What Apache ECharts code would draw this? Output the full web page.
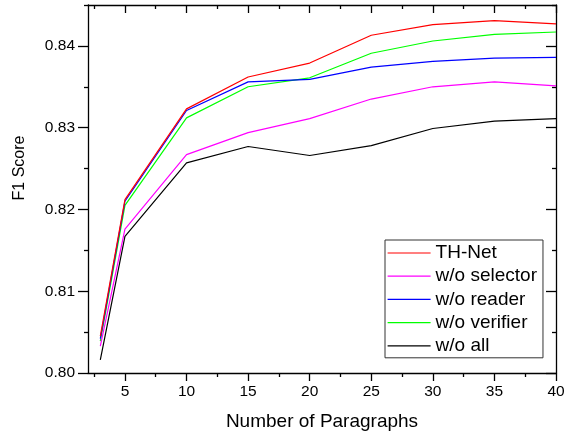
<!DOCTYPE html>
<html><head><meta charset="utf-8">
<script src="https://cdn.jsdelivr.net/npm/echarts@6/dist/echarts.min.js"></script>
<style>html,body{margin:0;padding:0;background:#fff}#c{width:564px;height:431px}</style>
</head><body><div id="c"></div>
<script>
const xValues = [3, 5, 10, 15, 20, 25, 30, 35, 40];
const thNet      = [0.8045, 0.8212, 0.8323, 0.8362, 0.8379, 0.8413, 0.8426, 0.8431, 0.8427];
const woSelector = [0.8033, 0.8176, 0.8267, 0.8294, 0.8311, 0.8335, 0.8350, 0.8356, 0.8351];
const woReader   = [0.8042, 0.8210, 0.8321, 0.8356, 0.8359, 0.8374, 0.8381, 0.8385, 0.8386];
const woVerifier = [0.8039, 0.8205, 0.8312, 0.8350, 0.8361, 0.8391, 0.8406, 0.8414, 0.8417];
const woAll      = [0.8016, 0.8167, 0.8257, 0.8277, 0.8266, 0.8278, 0.8299, 0.8308, 0.8311];
const xTicks = [5, 10, 15, 20, 25, 30, 35, 40];
const xMinorTicks = [2.5, 7.5, 12.5, 17.5, 22.5, 27.5, 32.5, 37.5];
const yTicks = [0.80, 0.81, 0.82, 0.83, 0.84];
const yMinorTicks = [0.805, 0.815, 0.825, 0.835, 0.845];
const seriesNames = ['TH-Net', 'w/o selector', 'w/o reader', 'w/o verifier', 'w/o all'];
const seriesData = [thNet, woSelector, woReader, woVerifier, woAll];
const colors = ['#ff0000', '#ff00ff', '#0000ff', '#00ff00', '#000000'];

const FONT = 'Liberation Sans, Arial, sans-serif';
const xMin = 2, xMax = 40, yMin = 0.80, yMax = 0.845;
const line = {show: true, lineStyle: {color: '#000', width: 1.3}};
function xAx(pos, ticks, len, inside, main) {
  return {type: 'value', position: pos, min: xMin, max: xMax,
    axisLine: main ? line : {show: false},
    axisTick: {show: true, customValues: ticks, length: len, inside: inside, lineStyle: {color: '#000', width: 1.3}},
    axisLabel: {show: main && pos === 'bottom', customValues: xTicks, fontFamily: FONT, fontSize: 15.5, color: '#000', margin: 11},
    splitLine: {show: false},
    name: (main && pos === 'bottom') ? 'Number of Paragraphs' : '',
    nameLocation: 'middle', nameGap: 39,
    nameTextStyle: {fontFamily: FONT, fontSize: 19, color: '#000'}};
}
function yAx(pos, ticks, len, inside, main) {
  return {type: 'value', position: pos, min: yMin, max: yMax,
    axisLine: main ? line : {show: false},
    axisTick: {show: true, customValues: ticks, length: len, inside: inside, lineStyle: {color: '#000', width: 1.3}},
    axisLabel: {show: main && pos === 'left', customValues: yTicks, fontFamily: FONT, fontSize: 15.5, color: '#000', margin: 13,
      formatter: v => v.toFixed(2)},
    splitLine: {show: false},
    name: (main && pos === 'left') ? 'F1 Score' : '',
    nameLocation: 'middle', nameGap: 60,
    nameTextStyle: {fontFamily: FONT, fontSize: 16, color: '#000', padding: [0, 0, 0, 42]}};
}
const chart = echarts.init(document.getElementById('c'), null, {renderer: 'canvas'});
chart.setOption({
  backgroundColor: '#fff',
  animation: false,
  grid: {left: 88, top: 5, right: 8, bottom: 58, containLabel: false, outerBoundsMode: 'none'},
  xAxis: [
    xAx('bottom', xTicks, 8, false, true),
    xAx('bottom', xMinorTicks, 4, false, false),
    xAx('top', xTicks, 8, true, true),
    xAx('top', xMinorTicks, 4, true, false)
  ],
  yAxis: [
    yAx('left', yTicks, 10, false, true),
    yAx('left', yMinorTicks, 4, false, false),
    yAx('right', yTicks, 10, true, true),
    yAx('right', yMinorTicks, 4, true, false)
  ],
  legend: {
    orient: 'vertical', left: 385, top: 240,
    data: seriesNames,
    itemWidth: 43, itemHeight: 14, itemGap: 1.2,
    padding: [2, 6, 1, 2],
    borderColor: '#333', borderWidth: 1,
    itemStyle: {opacity: 0},
    lineStyle: {width: 1.2},
    textStyle: {fontFamily: FONT, fontSize: 19, lineHeight: 22, color: '#000'}
  },
  series: seriesNames.map((n, i) => ({
    name: n, type: 'line', xAxisIndex: 0, yAxisIndex: 0,
    data: xValues.map((x, k) => [x, seriesData[i][k]]),
    symbol: 'none', lineStyle: {color: colors[i], width: 1.2}, itemStyle: {color: colors[i]},
    z: 10 - i
  }))
});
</script></body></html>
